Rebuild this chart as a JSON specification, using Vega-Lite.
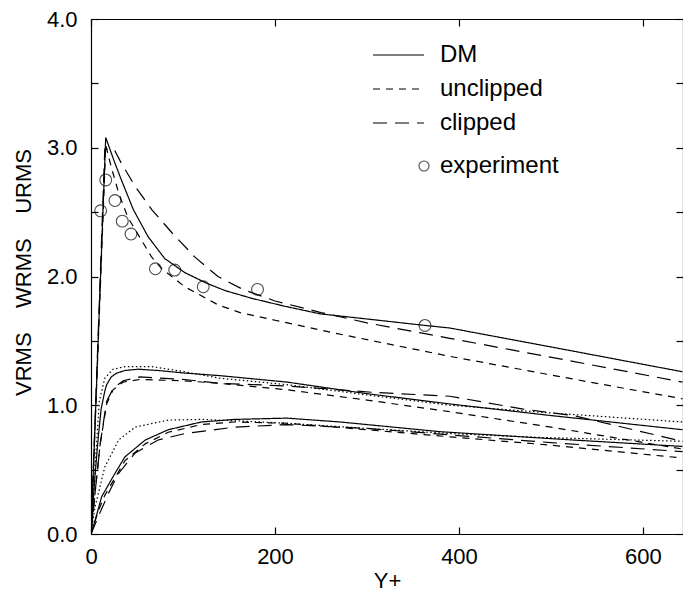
{
"$schema": "https://vega.github.io/schema/vega-lite/v6.json",
"width": 592, "height": 515,
"autosize": {"type": "none"},
"padding": {"left": 91, "top": 19, "right": 0, "bottom": 63},
"background": "white",
"config": {"font": "Liberation Sans", "view": {"stroke": null},
  "axis": {"grid": false, "domainColor": "black", "tickColor": "black", "labelColor": "black", "titleColor": "black", "domainWidth": 1.2, "tickWidth": 1.2, "labelFontSize": 22, "titleFontSize": 22, "titleFontWeight": "normal", "labelFlush": false, "labelOverlap": false}},
"datasets": {
"curves": [
{"comp":"U","model":"DM","yplus":0,"rms":0},{"comp":"U","model":"DM","yplus":16,"rms":3.08},{"comp":"U","model":"DM","yplus":25,"rms":2.9},{"comp":"U","model":"DM","yplus":33,"rms":2.75},{"comp":"U","model":"DM","yplus":46,"rms":2.52},{"comp":"U","model":"DM","yplus":62,"rms":2.31},{"comp":"U","model":"DM","yplus":80,"rms":2.14},{"comp":"U","model":"DM","yplus":102,"rms":2.03},{"comp":"U","model":"DM","yplus":125,"rms":1.95},{"comp":"U","model":"DM","yplus":146,"rms":1.89},{"comp":"U","model":"DM","yplus":175,"rms":1.83},{"comp":"U","model":"DM","yplus":210,"rms":1.77},{"comp":"U","model":"DM","yplus":249,"rms":1.71},{"comp":"U","model":"DM","yplus":300,"rms":1.67},{"comp":"U","model":"DM","yplus":363,"rms":1.62},{"comp":"U","model":"DM","yplus":390,"rms":1.6},{"comp":"U","model":"DM","yplus":517,"rms":1.43},{"comp":"U","model":"DM","yplus":643,"rms":1.26},
{"comp":"U","model":"clipped","yplus":0,"rms":0},{"comp":"U","model":"clipped","yplus":15,"rms":2.99},{"comp":"U","model":"clipped","yplus":25,"rms":2.99},{"comp":"U","model":"clipped","yplus":33,"rms":2.88},{"comp":"U","model":"clipped","yplus":48,"rms":2.7},{"comp":"U","model":"clipped","yplus":66,"rms":2.52},{"comp":"U","model":"clipped","yplus":88,"rms":2.34},{"comp":"U","model":"clipped","yplus":113,"rms":2.15},{"comp":"U","model":"clipped","yplus":138,"rms":2.0},{"comp":"U","model":"clipped","yplus":165,"rms":1.9},{"comp":"U","model":"clipped","yplus":200,"rms":1.81},{"comp":"U","model":"clipped","yplus":250,"rms":1.72},{"comp":"U","model":"clipped","yplus":300,"rms":1.64},{"comp":"U","model":"clipped","yplus":360,"rms":1.56},{"comp":"U","model":"clipped","yplus":390,"rms":1.52},{"comp":"U","model":"clipped","yplus":517,"rms":1.35},{"comp":"U","model":"clipped","yplus":643,"rms":1.18},
{"comp":"U","model":"unclipped","yplus":0,"rms":0},{"comp":"U","model":"unclipped","yplus":16,"rms":3.02},{"comp":"U","model":"unclipped","yplus":22,"rms":2.85},{"comp":"U","model":"unclipped","yplus":30,"rms":2.65},{"comp":"U","model":"unclipped","yplus":40,"rms":2.46},{"comp":"U","model":"unclipped","yplus":55,"rms":2.28},{"comp":"U","model":"unclipped","yplus":66,"rms":2.15},{"comp":"U","model":"unclipped","yplus":77,"rms":2.06},{"comp":"U","model":"unclipped","yplus":102,"rms":1.92},{"comp":"U","model":"unclipped","yplus":138,"rms":1.78},{"comp":"U","model":"unclipped","yplus":162,"rms":1.72},{"comp":"U","model":"unclipped","yplus":200,"rms":1.66},{"comp":"U","model":"unclipped","yplus":265,"rms":1.56},{"comp":"U","model":"unclipped","yplus":390,"rms":1.38},{"comp":"U","model":"unclipped","yplus":542,"rms":1.18},{"comp":"U","model":"unclipped","yplus":643,"rms":1.05},
{"comp":"W","model":"DM","yplus":0,"rms":0},{"comp":"W","model":"DM","yplus":4,"rms":0.42},{"comp":"W","model":"DM","yplus":8,"rms":0.76},{"comp":"W","model":"DM","yplus":11,"rms":0.97},{"comp":"W","model":"DM","yplus":15,"rms":1.11},{"comp":"W","model":"DM","yplus":17,"rms":1.16},{"comp":"W","model":"DM","yplus":22,"rms":1.22},{"comp":"W","model":"DM","yplus":28,"rms":1.25},{"comp":"W","model":"DM","yplus":37,"rms":1.27},{"comp":"W","model":"DM","yplus":51,"rms":1.28},{"comp":"W","model":"DM","yplus":73,"rms":1.27},{"comp":"W","model":"DM","yplus":102,"rms":1.25},{"comp":"W","model":"DM","yplus":140,"rms":1.23},{"comp":"W","model":"DM","yplus":213,"rms":1.18},{"comp":"W","model":"DM","yplus":300,"rms":1.09},{"comp":"W","model":"DM","yplus":390,"rms":1.01},{"comp":"W","model":"DM","yplus":500,"rms":0.92},{"comp":"W","model":"DM","yplus":643,"rms":0.81},
{"comp":"W","model":"dotted","yplus":0,"rms":0},{"comp":"W","model":"dotted","yplus":4,"rms":0.47},{"comp":"W","model":"dotted","yplus":9,"rms":1.03},{"comp":"W","model":"dotted","yplus":15,"rms":1.21},{"comp":"W","model":"dotted","yplus":24,"rms":1.28},{"comp":"W","model":"dotted","yplus":37,"rms":1.3},{"comp":"W","model":"dotted","yplus":66,"rms":1.3},{"comp":"W","model":"dotted","yplus":102,"rms":1.26},{"comp":"W","model":"dotted","yplus":140,"rms":1.21},{"comp":"W","model":"dotted","yplus":213,"rms":1.16},{"comp":"W","model":"dotted","yplus":300,"rms":1.08},{"comp":"W","model":"dotted","yplus":390,"rms":1.0},{"comp":"W","model":"dotted","yplus":500,"rms":0.94},{"comp":"W","model":"dotted","yplus":643,"rms":0.87},
{"comp":"W","model":"clipped","yplus":0,"rms":0},{"comp":"W","model":"clipped","yplus":5,"rms":0.36},{"comp":"W","model":"clipped","yplus":10,"rms":0.7},{"comp":"W","model":"clipped","yplus":17,"rms":1.03},{"comp":"W","model":"clipped","yplus":24,"rms":1.13},{"comp":"W","model":"clipped","yplus":35,"rms":1.19},{"comp":"W","model":"clipped","yplus":53,"rms":1.22},{"comp":"W","model":"clipped","yplus":102,"rms":1.2},{"comp":"W","model":"clipped","yplus":140,"rms":1.17},{"comp":"W","model":"clipped","yplus":213,"rms":1.15},{"comp":"W","model":"clipped","yplus":307,"rms":1.1},{"comp":"W","model":"clipped","yplus":390,"rms":1.07},{"comp":"W","model":"clipped","yplus":470,"rms":0.97},{"comp":"W","model":"clipped","yplus":524,"rms":0.92},{"comp":"W","model":"clipped","yplus":643,"rms":0.72},
{"comp":"W","model":"unclipped","yplus":0,"rms":0},{"comp":"W","model":"unclipped","yplus":5,"rms":0.36},{"comp":"W","model":"unclipped","yplus":10,"rms":0.7},{"comp":"W","model":"unclipped","yplus":17,"rms":1.01},{"comp":"W","model":"unclipped","yplus":24,"rms":1.12},{"comp":"W","model":"unclipped","yplus":35,"rms":1.18},{"comp":"W","model":"unclipped","yplus":53,"rms":1.2},{"comp":"W","model":"unclipped","yplus":102,"rms":1.19},{"comp":"W","model":"unclipped","yplus":140,"rms":1.17},{"comp":"W","model":"unclipped","yplus":213,"rms":1.12},{"comp":"W","model":"unclipped","yplus":300,"rms":1.04},{"comp":"W","model":"unclipped","yplus":390,"rms":0.95},{"comp":"W","model":"unclipped","yplus":500,"rms":0.83},{"comp":"W","model":"unclipped","yplus":643,"rms":0.66},
{"comp":"V","model":"DM","yplus":0,"rms":0},{"comp":"V","model":"DM","yplus":5,"rms":0.12},{"comp":"V","model":"DM","yplus":11.6,"rms":0.29},{"comp":"V","model":"DM","yplus":26,"rms":0.47},{"comp":"V","model":"DM","yplus":37,"rms":0.6},{"comp":"V","model":"DM","yplus":59,"rms":0.73},{"comp":"V","model":"DM","yplus":84,"rms":0.81},{"comp":"V","model":"DM","yplus":120,"rms":0.87},{"comp":"V","model":"DM","yplus":156,"rms":0.89},{"comp":"V","model":"DM","yplus":213,"rms":0.9},{"comp":"V","model":"DM","yplus":271,"rms":0.87},{"comp":"V","model":"DM","yplus":379,"rms":0.795},{"comp":"V","model":"DM","yplus":524,"rms":0.73},{"comp":"V","model":"DM","yplus":643,"rms":0.68},
{"comp":"V","model":"dotted","yplus":0,"rms":0},{"comp":"V","model":"dotted","yplus":4.3,"rms":0.21},{"comp":"V","model":"dotted","yplus":15,"rms":0.52},{"comp":"V","model":"dotted","yplus":30,"rms":0.73},{"comp":"V","model":"dotted","yplus":48,"rms":0.83},{"comp":"V","model":"dotted","yplus":84,"rms":0.885},{"comp":"V","model":"dotted","yplus":120,"rms":0.89},{"comp":"V","model":"dotted","yplus":156,"rms":0.88},{"comp":"V","model":"dotted","yplus":213,"rms":0.86},{"comp":"V","model":"dotted","yplus":300,"rms":0.82},{"comp":"V","model":"dotted","yplus":390,"rms":0.78},{"comp":"V","model":"dotted","yplus":488,"rms":0.75},{"comp":"V","model":"dotted","yplus":643,"rms":0.72},
{"comp":"V","model":"clipped","yplus":0,"rms":0},{"comp":"V","model":"clipped","yplus":10,"rms":0.17},{"comp":"V","model":"clipped","yplus":20,"rms":0.33},{"comp":"V","model":"clipped","yplus":30,"rms":0.47},{"comp":"V","model":"clipped","yplus":48,"rms":0.63},{"comp":"V","model":"clipped","yplus":73,"rms":0.73},{"comp":"V","model":"clipped","yplus":102,"rms":0.78},{"comp":"V","model":"clipped","yplus":156,"rms":0.83},{"comp":"V","model":"clipped","yplus":213,"rms":0.85},{"comp":"V","model":"clipped","yplus":300,"rms":0.82},{"comp":"V","model":"clipped","yplus":390,"rms":0.77},{"comp":"V","model":"clipped","yplus":500,"rms":0.71},{"comp":"V","model":"clipped","yplus":643,"rms":0.64},
{"comp":"V","model":"unclipped","yplus":0,"rms":0},{"comp":"V","model":"unclipped","yplus":8,"rms":0.18},{"comp":"V","model":"unclipped","yplus":15,"rms":0.3},{"comp":"V","model":"unclipped","yplus":37,"rms":0.57},{"comp":"V","model":"unclipped","yplus":59,"rms":0.7},{"comp":"V","model":"unclipped","yplus":84,"rms":0.79},{"comp":"V","model":"unclipped","yplus":120,"rms":0.85},{"comp":"V","model":"unclipped","yplus":156,"rms":0.87},{"comp":"V","model":"unclipped","yplus":213,"rms":0.86},{"comp":"V","model":"unclipped","yplus":300,"rms":0.81},{"comp":"V","model":"unclipped","yplus":390,"rms":0.755},{"comp":"V","model":"unclipped","yplus":500,"rms":0.69},{"comp":"V","model":"unclipped","yplus":643,"rms":0.59}
],
"exp": [
{"series":"experiment","yplus":10.5,"rms":2.51},{"series":"experiment","yplus":16,"rms":2.75},{"series":"experiment","yplus":26,"rms":2.59},{"series":"experiment","yplus":34,"rms":2.43},{"series":"experiment","yplus":43.5,"rms":2.33},{"series":"experiment","yplus":70,"rms":2.06},{"series":"experiment","yplus":91,"rms":2.05},{"series":"experiment","yplus":122,"rms":1.92},{"series":"experiment","yplus":181,"rms":1.9},{"series":"experiment","yplus":363,"rms":1.62}
]
},
"layer": [
{"data": {"name": "curves"},
 "mark": {"type": "line", "color": "black", "strokeWidth": 1.2, "clip": true},
 "encoding": {
  "x": {"field": "yplus", "type": "quantitative", "scale": {"domain": [0, 643.5], "nice": false, "zero": false},
        "axis": {"orient": "bottom", "values": [0, 200, 400, 600], "tickSize": -7, "labelPadding": 19, "title": "Y+", "titleX": 296, "titleY": 46, "titleBaseline": "middle", "titleAnchor": null}},
  "y": {"field": "rms", "type": "quantitative", "scale": {"domain": [0, 4], "nice": false},
        "axis": {"orient": "left", "values": [0, 0.5, 1, 1.5, 2, 2.5, 3, 3.5, 4], "tickSize": -7, "labelPadding": 21,
                 "labelExpr": "datum.value % 1 === 0 ? format(datum.value, '.1f') : ''",
                 "title": "VRMS\u00a0\u00a0\u00a0\u00a0WRMS\u00a0\u00a0\u00a0\u00a0URMS", "titleAngle": -90, "titleX": -68, "titleY": 253, "titleAlign": "center", "titleBaseline": "middle", "titleAnchor": null}},
  "detail": {"field": "comp", "type": "nominal"},
  "strokeDash": {"field": "model", "type": "nominal",
     "scale": {"domain": ["DM", "unclipped", "clipped", "dotted"], "range": [[1, 0], [7, 6], [14, 8], [1.5, 2.5]]},
     "legend": {"values": ["DM", "unclipped", "clipped"], "orient": "none", "legendX": 281, "legendY": 24, "title": null,
                "symbolType": "stroke", "symbolSize": 2601, "symbolStrokeWidth": 1.2, "symbolStrokeColor": "black",
                "clipHeight": 24, "labelFontSize": 24, "labelOffset": 15, "rowPadding": 10, "padding": 0, "labelColor": "black"}}
 }},
{"data": {"name": "exp"},
 "mark": {"type": "point", "filled": false, "color": "black", "size": 140, "strokeWidth": 1.1},
 "encoding": {
  "x": {"field": "yplus", "type": "quantitative", "axis": {"orient": "top", "values": [0, 200, 400, 600], "tickSize": -7, "labels": false, "title": null}},
  "y": {"field": "rms", "type": "quantitative", "axis": {"orient": "right", "values": [0, 0.5, 1, 1.5, 2, 2.5, 3, 3.5, 4], "tickSize": -7, "labels": false, "title": null}},
  "shape": {"field": "series", "type": "nominal", "scale": {"domain": ["experiment"], "range": ["circle"]},
     "legend": {"orient": "none", "legendX": 321, "legendY": 135, "title": null, "symbolSize": 100, "symbolStrokeColor": "black", "symbolFillColor": "transparent", "symbolStrokeWidth": 1.1,
                "labelFontSize": 24, "labelOffset": 4, "padding": 0, "labelColor": "black"}}
 }}
],
"resolve": {"axis": {"x": "independent", "y": "independent"}}
}
